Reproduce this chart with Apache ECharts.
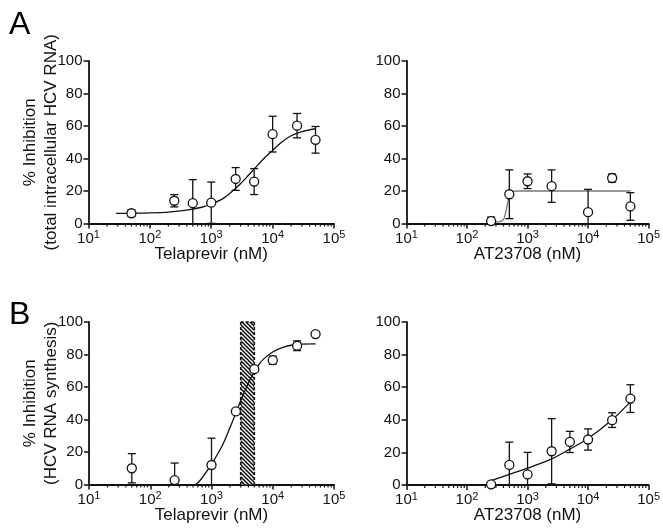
<!DOCTYPE html>
<html><head><meta charset="utf-8">
<script src="https://cdn.jsdelivr.net/npm/echarts@6/dist/echarts.min.js"></script>
<style>html,body{margin:0;padding:0;background:#fff}#c{width:663px;height:528px}</style>
</head><body><div id="c"></div>
<script>
// ---- Data ----
// Panel A left: Telaprevir, total intracellular HCV RNA
const aTelX   = [50, 250, 500, 1000, 2500, 5000, 10000, 25000, 50000];
const aTelY   = [6.3, 14, 12.5, 12.8, 27.4, 25.8, 55, 60.2, 51.5];
const aTelErr = [2, 3.8, 14.5, 12.7, 7, 8, 11, 7.5, 8.2];
const aTelFitX = [28, 50, 100, 200, 400, 700, 1000, 1500, 2000, 3000, 4000, 5000, 7000, 10000, 14000, 20000, 30000, 50000];
const aTelFitY = [6.2, 6.3, 6.5, 7, 8.2, 10, 12, 15, 18.5, 24.5, 29.5, 33.5, 39.5, 45, 50, 54, 56.5, 58.3];

// Panel A right: AT23708, total intracellular HCV RNA
const aAtX   = [250, 500, 1000, 2500, 10000, 25000, 50000];
const aAtY   = [1.5, 18, 26, 23, 7, 28, 10.5];
const aAtErr = [2.5, 15, 4.5, 10, 14, 2.5, 8.5];
const aAtFitX = [250, 300, 350, 400, 430, 460, 490, 520, 560, 700, 1000, 50000];
const aAtFitY = [1, 1, 1.2, 2.5, 6, 11, 16, 19, 19.8, 20, 20, 20];

// Panel B left: Telaprevir, HCV RNA synthesis
const bTelX   = [50, 250, 1000, 2500, 5000, 10000, 25000, 50000];
const bTelY   = [10, 2.7, 12, 45, 71, 76.5, 85.4, 92.6];
const bTelErr = [9, 10.5, 16.5, 0, 1.5, 2.5, 3, 0];
const bTelFitX = [560, 700, 1000, 1500, 2000, 2500, 3000, 4000, 5000, 6000, 7000, 10000, 15000, 25000, 50000];
const bTelFitY = [0, 4, 12.5, 24, 35, 44, 51.5, 62.5, 69.5, 74, 77, 81.5, 84.5, 86.3, 86.5];
const bHatchRange = [3000, 5000];

// Panel B right: AT23708, HCV RNA synthesis
const bAtX   = [250, 500, 1000, 2500, 5000, 10000, 25000, 50000];
const bAtY   = [0.4, 12.3, 6.5, 20.7, 26.4, 27.9, 39.8, 53];
const bAtErr = [0, 14, 13.5, 20, 6.5, 6.5, 4.5, 8.5];
const bAtFitX = [250, 500, 1000, 2500, 5000, 10000, 25000, 50000];
const bAtFitY = [2.7, 6.5, 10.3, 16, 22, 28.5, 40, 51];

const yTicks = [0, 20, 40, 60, 80, 100];
const xDecades = [10, 100, 1000, 10000, 100000];

// ---- Rendering ----
const FF = '"Liberation Sans", Arial, Helvetica, sans-serif';
const INK = '#111';
const chart = echarts.init(document.getElementById('c'), null, {renderer: 'canvas'});

// hatch pattern
const pc = document.createElement('canvas');
pc.width = 4; pc.height = 4;
const pctx = pc.getContext('2d');
pctx.fillStyle = '#fff'; pctx.fillRect(0, 0, 4, 4);
pctx.strokeStyle = '#000'; pctx.lineWidth = 1.4;
pctx.beginPath();
pctx.moveTo(-1, -1); pctx.lineTo(5, 5);
pctx.moveTo(-1, 3); pctx.lineTo(1, 5);
pctx.moveTo(3, -1); pctx.lineTo(5, 1);
pctx.stroke();

// minor tick positions (axis decoration: 2..9 x each decade)
const minorVals = [];
for (let d = 0; d < xDecades.length - 1; d++) {
  for (let k = 2; k <= 9; k++) minorVals.push([xDecades[d] * k, 0]);
}

const grids = [
  {left: 88.5, top: 61, width: 245.5, height: 162.5},
  {left: 406.5, top: 61, width: 245, height: 162.5},
  {left: 89, top: 322, width: 245, height: 162.5},
  {left: 406.5, top: 322, width: 245.5, height: 163}
];

function xAx(gi, name) {
  return {
    type: 'log', logBase: 10, gridIndex: gi, min: 10, max: 100000,
    name: name, nameLocation: 'middle', nameGap: 22, nameMoveOverlap: false,
    nameTextStyle: {fontSize: 17, color: INK, fontFamily: FF},
    axisLine: {show: true, lineStyle: {color: INK, width: 1.8}},
    axisTick: {show: true, length: 5, lineStyle: {color: INK, width: 1.5}},
    minorTick: {show: false},
    splitLine: {show: false},
    axisLabel: {
      margin: 6,
      formatter: function (v) { return '{b|10}{s|' + Math.round(Math.log10(v)) + '}'; },
      rich: {
        b: {fontSize: 15, fontFamily: FF, color: INK, lineHeight: 18},
        s: {fontSize: 11, fontFamily: FF, color: INK, lineHeight: 8, verticalAlign: 'top'}
      }
    }
  };
}
function yAx(gi, name) {
  return {
    type: 'value', gridIndex: gi, min: 0, max: 100, interval: 20,
    name: name || '', nameLocation: 'middle', nameRotate: 90, nameGap: 27, nameMoveOverlap: false,
    nameTextStyle: {fontSize: 17, color: INK, fontFamily: FF, lineHeight: 21},
    axisLine: {show: true, lineStyle: {color: INK, width: 1.8}},
    axisTick: {show: true, length: 5, lineStyle: {color: INK, width: 1.5}},
    splitLine: {show: false},
    axisLabel: {margin: 6, fontSize: 15, fontFamily: FF, color: INK}
  };
}

function errRender(params, api) {
  const x = api.value(0), y = api.value(1), e = api.value(2);
  if (!e) return null;
  const lo = Math.max(0, y - e), hi = y + e;
  const pLo = api.coord([x, lo]), pHi = api.coord([x, hi]);
  const cap = 4;
  const st = {stroke: INK, lineWidth: 1.3};
  const ch = [
    {type: 'line', shape: {x1: pLo[0], y1: pLo[1], x2: pHi[0], y2: pHi[1]}, style: st},
    {type: 'line', shape: {x1: pHi[0] - cap, y1: pHi[1], x2: pHi[0] + cap, y2: pHi[1]}, style: st}
  ];
  if (y - e > 0) ch.push({type: 'line', shape: {x1: pLo[0] - cap, y1: pLo[1], x2: pLo[0] + cap, y2: pLo[1]}, style: st});
  return {type: 'group', children: ch};
}
function minorRender(params, api) {
  const p = api.coord([api.value(0), 0]);
  return {type: 'line', shape: {x1: p[0], y1: p[1], x2: p[0], y2: p[1] + 3}, style: {stroke: INK, lineWidth: 1.2}};
}
function hatchRender(params, api) {
  const p1 = api.coord([api.value(0), 100]);
  const p2 = api.coord([api.value(1), 0]);
  const dash = {stroke: INK, lineWidth: 1.6, lineDash: [3, 2]};
  return {type: 'group', children: [
    {type: 'rect', shape: {x: p1[0], y: p1[1], width: p2[0] - p1[0], height: p2[1] - p1[1]},
     style: {fill: {image: pc, repeat: 'repeat'}, stroke: null}},
    {type: 'line', shape: {x1: p1[0], y1: p1[1], x2: p1[0], y2: p2[1]}, style: dash},
    {type: 'line', shape: {x1: p2[0], y1: p1[1], x2: p2[0], y2: p2[1]}, style: dash},
    {type: 'line', shape: {x1: p1[0], y1: p1[1], x2: p2[0], y2: p1[1]}, style: dash}
  ]};
}

function zip(a, b) { return a.map((v, i) => [v, b[i]]); }
function zip3(a, b, c) { return a.map((v, i) => [v, b[i], c[i]]); }

function panelSeries(gi, xs, ys, errs, fx, fy, curveColor) {
  return [
    {type: 'custom', xAxisIndex: gi, yAxisIndex: gi, renderItem: minorRender, data: minorVals, silent: true, clip: false, z: 1},
    {type: 'line', xAxisIndex: gi, yAxisIndex: gi, data: zip(fx, fy), showSymbol: false, symbol: 'none',
     smooth: 0.3, lineStyle: {color: curveColor, width: 1.3}, z: 3, silent: true},
    {type: 'custom', xAxisIndex: gi, yAxisIndex: gi, renderItem: errRender, data: zip3(xs, ys, errs), silent: true, z: 4},
    {type: 'scatter', xAxisIndex: gi, yAxisIndex: gi, data: zip(xs, ys), symbol: 'circle', symbolSize: 9,
     itemStyle: {color: '#fff', borderColor: INK, borderWidth: 1.3, opacity: 1}, z: 5, silent: true}
  ];
}

const series = [].concat(
  [{type: 'custom', xAxisIndex: 2, yAxisIndex: 2, renderItem: hatchRender, data: [bHatchRange], silent: true, z: 2}],
  panelSeries(0, aTelX, aTelY, aTelErr, aTelFitX, aTelFitY, INK),
  panelSeries(1, aAtX, aAtY, aAtErr, aAtFitX, aAtFitY, '#777'),
  panelSeries(2, bTelX, bTelY, bTelErr, bTelFitX, bTelFitY, INK),
  panelSeries(3, bAtX, bAtY, bAtErr, bAtFitX, bAtFitY, INK)
);

chart.setOption({
  animation: false,
  backgroundColor: '#fff',
  grid: grids,
  xAxis: [xAx(0, 'Telaprevir (nM)'), xAx(1, 'AT23708 (nM)'), xAx(2, 'Telaprevir (nM)'), xAx(3, 'AT23708 (nM)')],
  yAxis: [yAx(0, '% Inhibition\n(total intracellular HCV RNA)'), yAx(1), yAx(2, '% Inhibition\n(HCV RNA synthesis)'), yAx(3)],
  graphic: [
    {type: 'text', left: 9, top: 9, style: {text: 'A', fontSize: 32, fontFamily: FF, fill: '#000'}},
    {type: 'text', left: 9, top: 299, style: {text: 'B', fontSize: 32, fontFamily: FF, fill: '#000'}}
  ],
  series: series
});
</script>
</body></html>
